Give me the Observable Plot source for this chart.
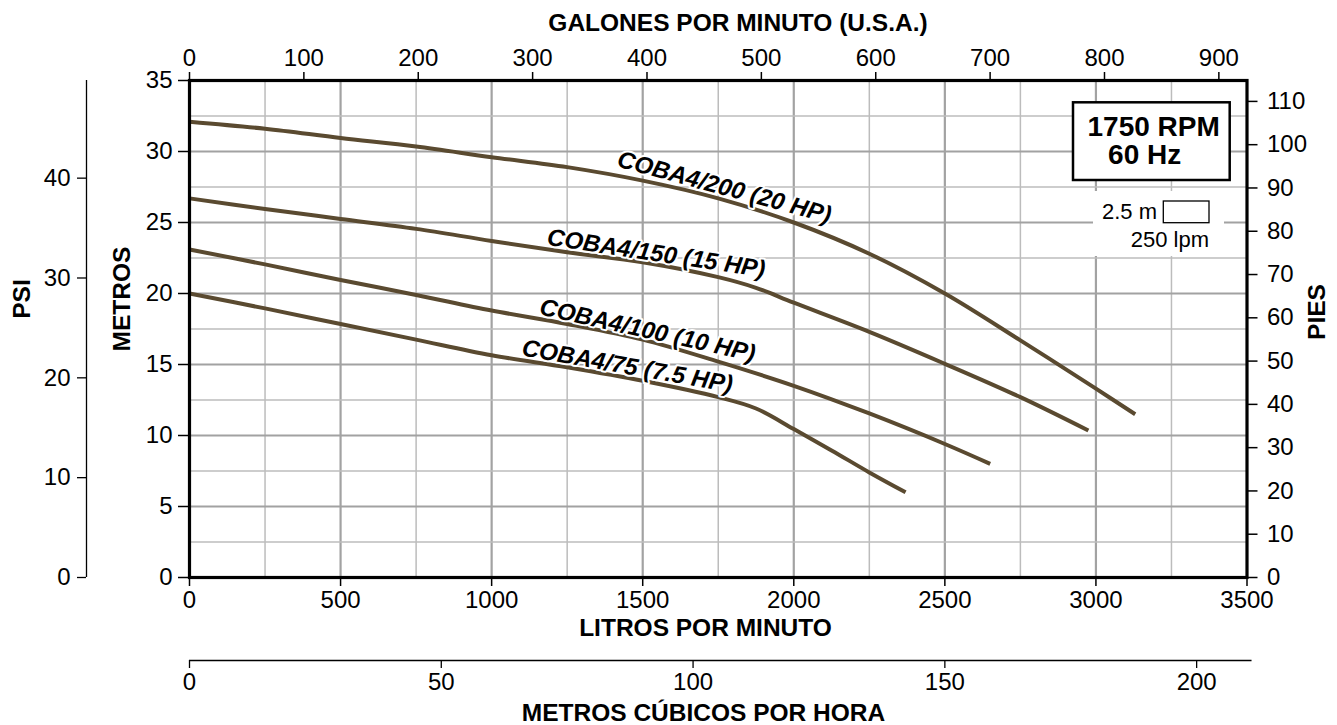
<!DOCTYPE html>
<html>
<head>
<meta charset="utf-8">
<script src="https://cdn.jsdelivr.net/npm/d3@7"></script>
<script src="https://cdn.jsdelivr.net/npm/@observablehq/plot@0.6"></script>
<style>
  html, body { margin: 0; padding: 0; background: #fff; }
  #chart svg { display: block; }
</style>
</head>
<body>
<div id="chart"></div>
<script>
// ---------- data ----------
const models = ["COBA4/200 (20 HP)", "COBA4/150 (15 HP)", "COBA4/100 (10 HP)", "COBA4/75 (7.5 HP)"];

const lpm200  = [0, 250, 500, 750, 1000, 1250, 1500, 1750, 2000, 2250, 2500, 2750, 3000, 3130];
const head200 = [32.1, 31.6, 30.95, 30.35, 29.6, 28.9, 27.95, 26.7, 25.0, 22.8, 20.0, 16.7, 13.3, 11.5];

const lpm150  = [0, 250, 500, 750, 1000, 1250, 1500, 1750, 1875, 2000, 2250, 2500, 2750, 2975];
const head150 = [26.7, 25.95, 25.25, 24.55, 23.7, 22.9, 22.2, 21.15, 20.4, 19.35, 17.3, 15.05, 12.7, 10.35];

const lpm100  = [0, 250, 500, 750, 1000, 1250, 1500, 1750, 2000, 2250, 2500, 2650];
const head100 = [23.1, 22.05, 20.95, 19.9, 18.8, 17.85, 16.75, 15.2, 13.5, 11.55, 9.4, 8.0];

const lpm75   = [0, 250, 500, 750, 1000, 1250, 1500, 1750, 1875, 2000, 2125, 2250, 2370];
const head75  = [20.0, 18.95, 17.85, 16.75, 15.65, 14.8, 13.85, 12.7, 11.9, 10.45, 8.95, 7.4, 6.0];

// where along each curve (in l/min) its label sits
const labelLpm = [1770, 1545, 1516, 1449];

// axis ticks
const lpmTicks   = [0, 500, 1000, 1500, 2000, 2500, 3000, 3500];
const metreTicks = [0, 5, 10, 15, 20, 25, 30, 35];
const gpmTicks   = [0, 100, 200, 300, 400, 500, 600, 700, 800, 900];
const ftTicks    = [0, 10, 20, 30, 40, 50, 60, 70, 80, 90, 100, 110];
const psiTicks   = [0, 10, 20, 30, 40];
const m3hTicks   = [0, 50, 100, 150, 200];
const m3hAxisEnd = 211;

const rpmLines = ["1750 RPM", "60 Hz"];
const keyLabels = ["2.5 m", "250 lpm"];

// unit conversions
const LPM_PER_GPM = 3.78541, M_PER_FT = 0.3048, M_PER_PSI = 0.70307, LPM_PER_M3H = 1000 / 60;

// ---------- build ----------
const FONT = "'Liberation Sans', Arial, Helvetica, sans-serif";
const CURVE = "#5a4a30";

const series = [
  {model: models[0], lpm: lpm200, head: head200, rot: 15},
  {model: models[1], lpm: lpm150, head: head150, rot: 8.5},
  {model: models[2], lpm: lpm100, head: head100, rot: 12.5},
  {model: models[3], lpm: lpm75,  head: head75,  rot: 10}
];
const labelDy = [-13, -11.5, -10.6, -11.8];

const rows = series.flatMap(s => s.lpm.map((q, i) => ({model: s.model, lpm: q, head: s.head[i]})));

function interp(xs, ys, x) {
  for (let i = 1; i < xs.length; i++) {
    if (x <= xs[i]) { const t = (x - xs[i-1]) / (xs[i] - xs[i-1]); return ys[i-1] + t * (ys[i] - ys[i-1]); }
  }
  return ys[ys.length - 1];
}
const labels = series.map((s, i) => ({text: s.model, lpm: labelLpm[i], head: interp(s.lpm, s.head, labelLpm[i]), rot: s.rot, dy: labelDy[i]}));

const gridMinorX = d3.range(250, 3500, 500);
const gridMajorX = d3.range(500, 3500, 500);
const gridMinorY = d3.range(2.5, 35, 5);
const gridMajorY = d3.range(5, 35, 5);

function annotationLayer(index, scales, values, dims) {
  const right = dims.width - dims.marginRight;
  const top = dims.marginTop;
  const g = d3.create("svg:g").attr("font-family", FONT).attr("fill", "#000");
  // key background (hides grid)
  g.append("rect").attr("x", right - 153.5).attr("y", top + 111).attr("width", 131).attr("height", 65).attr("fill", "#fff");
  g.append("text").attr("x", right - 89.5).attr("y", top + 139.3).attr("text-anchor", "end").attr("font-size", 22).text(keyLabels[0]);
  g.append("rect").attr("x", right - 83.2).attr("y", top + 121).attr("width", 45.7).attr("height", 21.7)
    .attr("fill", "#fff").attr("stroke", "#000").attr("stroke-width", 1.3);
  g.append("text").attr("x", right - 37.5).attr("y", top + 166.7).attr("text-anchor", "end").attr("font-size", 22).text(keyLabels[1]);
  // RPM box
  g.append("rect").attr("x", right - 173.5).attr("y", top + 22.3).attr("width", 156.7).attr("height", 77.7)
    .attr("fill", "#fff").attr("stroke", "#000").attr("stroke-width", 2.5);
  g.append("text").attr("x", right - 92.8).attr("y", top + 56).attr("text-anchor", "middle").attr("font-size", 28).attr("font-weight", "bold").text(rpmLines[0]);
  g.append("text").attr("x", right - 101.8).attr("y", top + 84).attr("text-anchor", "middle").attr("font-size", 28).attr("font-weight", "bold").text(rpmLines[1]);
  return g.node();
}

const titleStyle = {fontWeight: "bold", fontSize: 24.5, textAnchor: "middle", lineAnchor: "middle", fill: "#000"};
const plain = d => String(d);

const chart = Plot.plot({
  width: 1337,
  height: 725,
  marginLeft: 189,
  marginRight: 90.5,
  marginTop: 80,
  marginBottom: 148,
  x: {domain: [0, 3500], axis: null},
  y: {domain: [0, 35], axis: null},
  style: {fontFamily: FONT, fontSize: "24px", color: "#000", background: "#fff", overflow: "visible"},
  marks: [
    Plot.gridX(gridMinorX, {stroke: "#bcbcbc", strokeWidth: 1.5, strokeOpacity: 1}),
    Plot.gridX(gridMajorX, {stroke: "#a2a2a2", strokeWidth: 2.2, strokeOpacity: 1}),
    Plot.gridY(gridMinorY, {stroke: "#bcbcbc", strokeWidth: 1.5, strokeOpacity: 1}),
    Plot.gridY(gridMajorY, {stroke: "#a2a2a2", strokeWidth: 2.2, strokeOpacity: 1}),
    annotationLayer,
    Plot.line(rows, {x: "lpm", y: "head", z: "model", stroke: CURVE, strokeWidth: 4, curve: "catmull-rom", strokeLinecap: "butt"}),
    ...labels.map(l => Plot.text([l], {
      x: "lpm", y: "head", text: "text", rotate: l.rot, dy: l.dy,
      fontSize: 24, fontWeight: "bold", fontStyle: "italic", fill: "#000",
      stroke: "#fff", strokeWidth: 4, paintOrder: "stroke", textAnchor: "middle", lineAnchor: "middle"
    })),
    Plot.frame({stroke: "#000", strokeWidth: 3.2}),
    // litres per minute (bottom)
    Plot.axisX(lpmTicks, {anchor: "bottom", tickSize: 9, tickPadding: 4, strokeWidth: 1.5, label: null, fontSize: 24, tickFormat: plain}),
    // US gallons per minute (top)
    Plot.axisX(gpmTicks.map(g => g * LPM_PER_GPM), {anchor: "top", tickSize: 9, tickPadding: 6, strokeWidth: 1.5, label: null, fontSize: 24,
      tickFormat: d => String(Math.round(d / LPM_PER_GPM))}),
    // cubic metres per hour (separate scale line below)
    Plot.ruleY([{y: 0, x1: 0, x2: m3hAxisEnd * LPM_PER_M3H}], {y: "y", x1: "x1", x2: "x2", dy: 83, stroke: "#000", strokeWidth: 1.3}),
    Plot.axisX(m3hTicks.map(v => v * LPM_PER_M3H), {anchor: "bottom", dy: 83, tickSize: 8, tickPadding: 4, strokeWidth: 1.3, label: null, fontSize: 24,
      tickFormat: d => String(Math.round(d / LPM_PER_M3H))}),
    // metres (left)
    Plot.axisY(metreTicks, {anchor: "left", tickSize: 11, tickPadding: 6, strokeWidth: 1.5, label: null, fontSize: 24, tickFormat: plain}),
    // feet (right)
    Plot.axisY(ftTicks.map(f => f * M_PER_FT), {anchor: "right", tickSize: 10, tickPadding: 10, strokeWidth: 1.5, label: null, fontSize: 24,
      tickFormat: d => String(Math.round(d / M_PER_FT))}),
    // psi (far left)
    Plot.ruleX([{x: 0, y1: 0, y2: 35}], {x: "x", y1: "y1", y2: "y2", dx: -103, stroke: "#000", strokeWidth: 1.3}),
    Plot.axisY(psiTicks.map(p => p * M_PER_PSI), {anchor: "left", dx: -103, tickSize: 9, tickPadding: 7, strokeWidth: 1.3, label: null, fontSize: 24,
      tickFormat: d => String(Math.round(d / M_PER_PSI))}),
    // axis titles
    Plot.text(["GALONES POR MINUTO (U.S.A.)"], {frameAnchor: "top", dx: 19.75, dy: -57.5, ...titleStyle}),
    Plot.text(["LITROS POR MINUTO"], {frameAnchor: "bottom", dx: -12.75, dy: 51, ...titleStyle}),
    Plot.text(["METROS CÚBICOS POR HORA"], {frameAnchor: "bottom", dx: -14.75, dy: 136, ...titleStyle}),
    Plot.text(["PSI"], {frameAnchor: "left", rotate: -90, dx: -167, dy: -30, ...titleStyle}),
    Plot.text(["METROS"], {frameAnchor: "left", rotate: -90, dx: -67, dy: -30, ...titleStyle}),
    Plot.text(["PIES"], {frameAnchor: "right", rotate: -90, dx: 70, dy: -17, ...titleStyle})
  ]
});
document.getElementById("chart").appendChild(chart);
</script>
</body>
</html>
